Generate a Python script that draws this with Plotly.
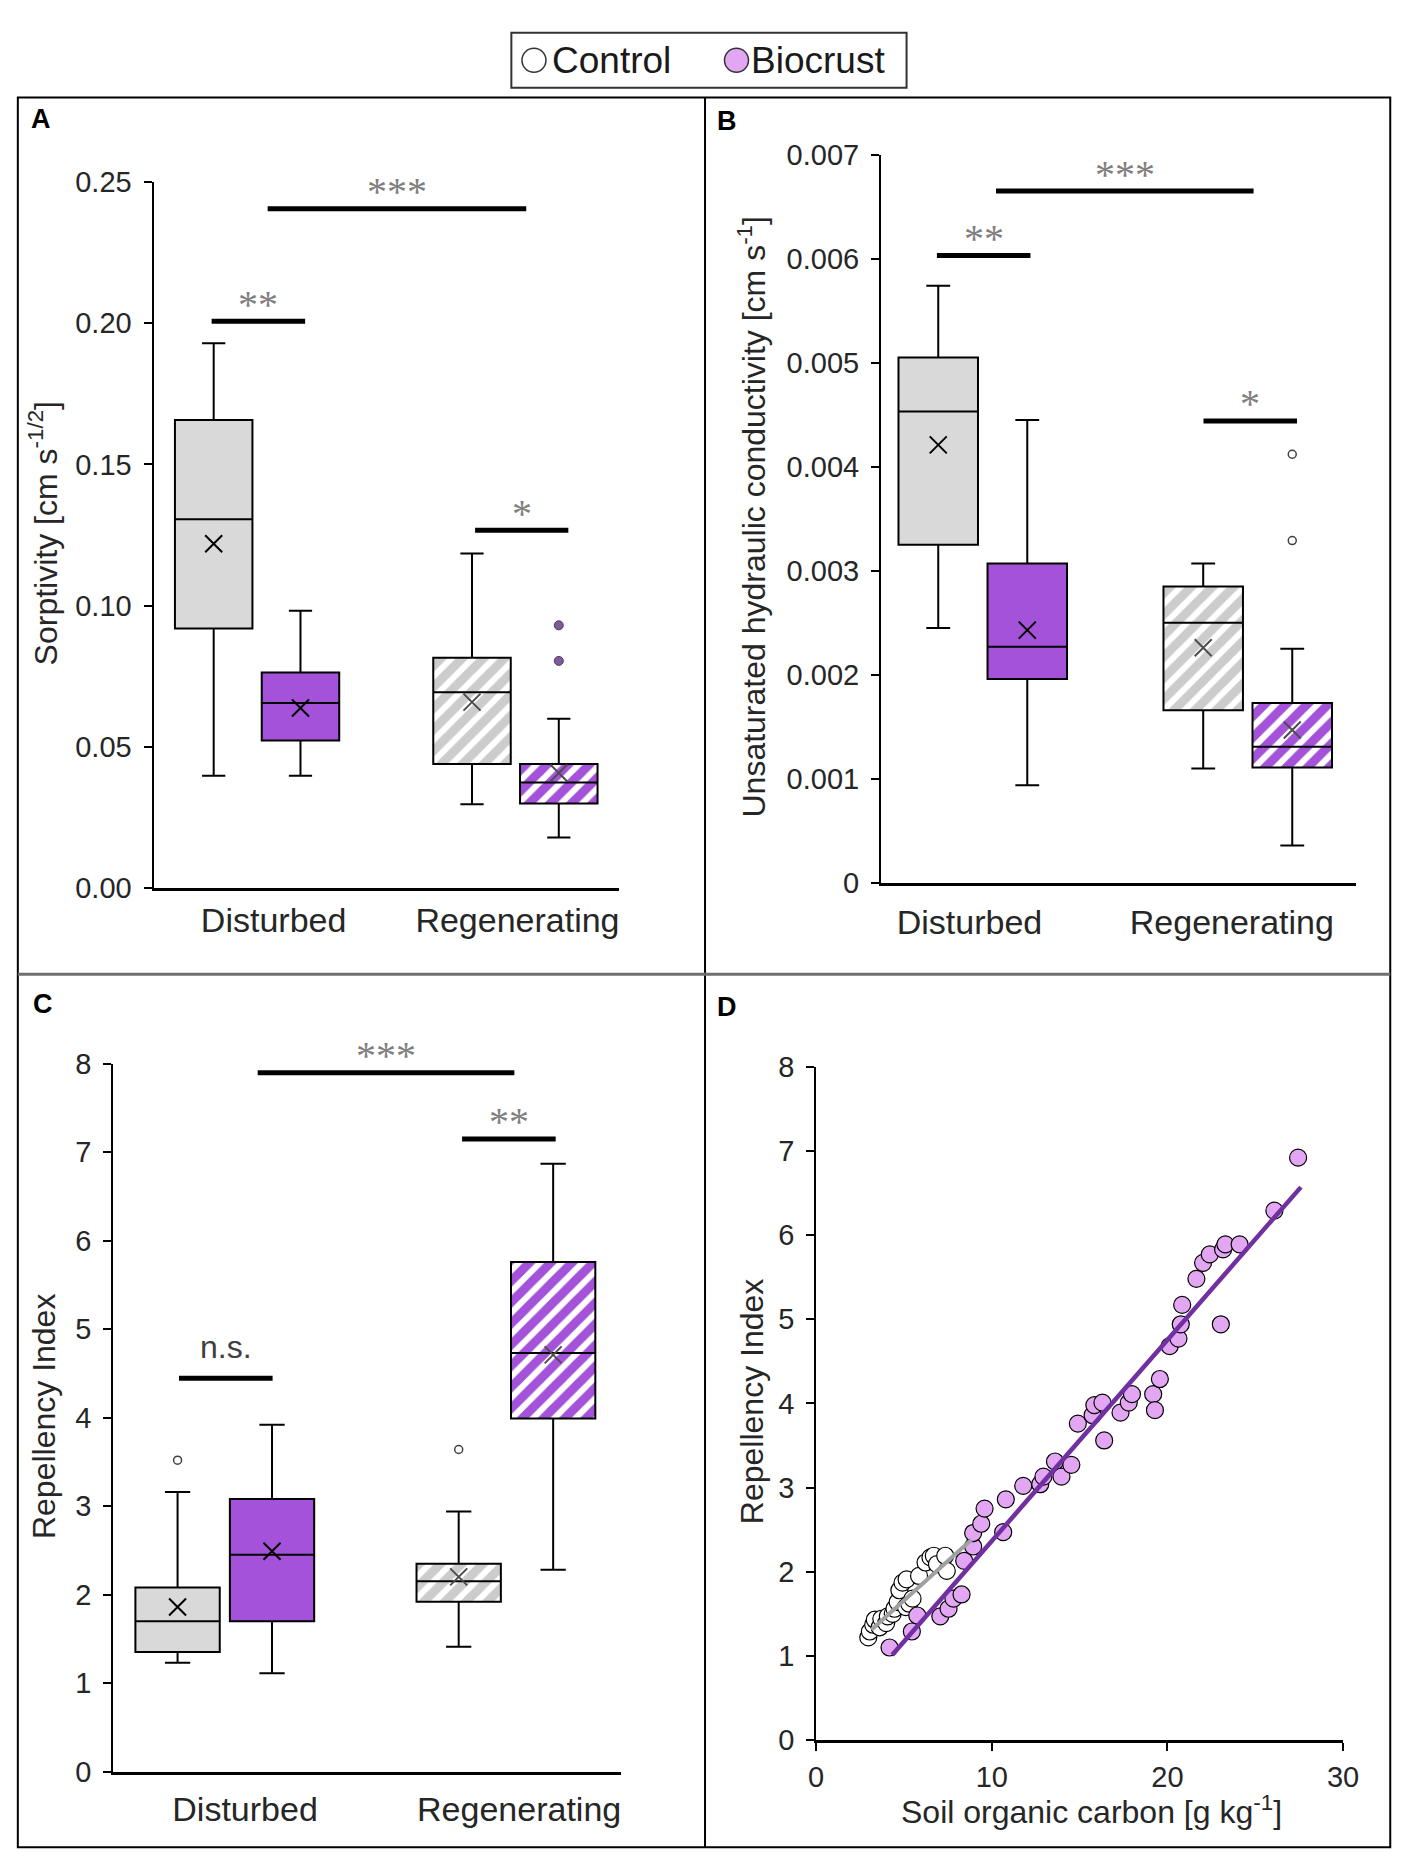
import plotly.graph_objects as go

# ---------------- data ----------------
categories = ["Disturbed", "Regenerating"]
legend_names = ["Control", "Biocrust"]

# A: Sorptivity [cm s-1/2]
sorp_ctrl_q1 = [0.0919, 0.0439]
sorp_ctrl_med = [0.1306, 0.0693]
sorp_ctrl_q3 = [0.1657, 0.0815]
sorp_ctrl_lo = [0.0397, 0.0296]
sorp_ctrl_hi = [0.1929, 0.1184]
sorp_ctrl_mean = [0.1219, 0.0658]
sorp_bio_q1 = [0.0522, 0.0299]
sorp_bio_med = [0.0655, 0.0373]
sorp_bio_q3 = [0.0763, 0.0439]
sorp_bio_lo = [0.0397, 0.0178]
sorp_bio_hi = [0.0982, 0.0599]
sorp_bio_mean = [0.0637, 0.0407]
sorp_bio_regen_outliers = [0.0930, 0.0804]

# B: Unsaturated hydraulic conductivity [cm s-1]
kh_ctrl_q1 = [0.00325, 0.00166]
kh_ctrl_med = [0.00453, 0.00250]
kh_ctrl_q3 = [0.00505, 0.00285]
kh_ctrl_lo = [0.00245, 0.00110]
kh_ctrl_hi = [0.00574, 0.00307]
kh_ctrl_mean = [0.00421, 0.00226]
kh_bio_q1 = [0.00196, 0.00111]
kh_bio_med = [0.00227, 0.00131]
kh_bio_q3 = [0.00307, 0.00173]
kh_bio_lo = [0.00094, 0.00036]
kh_bio_hi = [0.00445, 0.00225]
kh_bio_mean = [0.00243, 0.00147]
kh_bio_regen_outliers = [0.00412, 0.00329]

# C: Repellency index
ri_ctrl_q1 = [1.35, 1.92]
ri_ctrl_med = [1.70, 2.15]
ri_ctrl_q3 = [2.08, 2.35]
ri_ctrl_lo = [1.23, 1.41]
ri_ctrl_hi = [3.16, 2.94]
ri_ctrl_mean = [1.86, 2.20]
ri_bio_q1 = [1.70, 3.99]
ri_bio_med = [2.45, 4.73]
ri_bio_q3 = [3.08, 5.76]
ri_bio_lo = [1.11, 2.28]
ri_bio_hi = [3.92, 6.87]
ri_bio_mean = [2.49, 4.71]
ri_ctrl_outliers = [3.52, 3.64]   # one per category

# D: repellency index vs soil organic carbon
soc_ctrl = [2.97, 3.06, 3.25, 3.34, 3.62, 3.71, 3.99, 4.08, 4.36, 4.46, 4.64, 4.74,
            4.92, 5.11, 5.15, 5.30, 5.49, 5.86, 6.23, 6.51, 6.70, 6.88, 7.35, 7.44]
ri_ctrl_pts = [1.22, 1.29, 1.37, 1.43, 1.34, 1.44, 1.39, 1.47, 1.50, 1.56, 1.64, 1.78,
               1.87, 1.58, 1.91, 1.62, 1.68, 1.95, 2.11, 2.17, 2.19, 2.09, 2.19, 2.01]
soc_bio = [4.18, 5.45, 5.76, 7.07, 7.54, 7.82, 8.28, 8.43, 8.94, 8.94, 9.40, 9.59,
           10.65, 10.80, 11.79, 12.76, 12.94, 13.60, 13.97, 14.53, 14.90, 15.74, 15.84,
           16.30, 16.40, 17.33, 17.80, 17.98, 19.19, 19.29, 19.57, 20.13, 20.63, 20.76,
           20.84, 21.65, 22.03, 22.41, 23.17, 23.30, 24.11, 23.04, 26.09, 27.44]
ri_bio_pts = [1.10, 1.29, 1.48, 1.47, 1.56, 1.68, 1.73, 2.13, 2.30, 2.46, 2.57, 2.75,
              2.47, 2.86, 3.02, 3.04, 3.13, 3.31, 3.13, 3.27, 3.76, 3.86, 3.98,
              4.01, 3.56, 3.89, 4.01, 4.11, 4.11, 3.92, 4.29, 4.68, 4.77, 4.94,
              5.17, 5.48, 5.67, 5.77, 5.83, 5.89, 5.89, 4.94, 6.29, 6.92]
ctrl_fit_x = [3.15, 8.84]
ctrl_fit_y = [1.31, 2.38]
bio_fit_x = [4.33, 27.6]
bio_fit_y = [1.01, 6.57]

# significance brackets: (panel, x from, x to, level, label)
brackets = [
    (1, 0.041, 1.042, 0.2406, "***"),
    (1, -0.176, 0.186, 0.2007, "**"),
    (1, 0.844, 1.205, 0.1267, "*"),
    (2, 0.050, 1.022, 0.00665, "***"),
    (2, -0.173, 0.180, 0.00603, "**"),
    (2, 0.833, 1.186, 0.00444, "*"),
    (3, 0.117, 1.030, 7.90, "***"),
    (3, 0.844, 1.177, 7.15, "**"),
    (3, -0.163, 0.170, 4.445, "n.s."),
]

# ---------------- style ----------------
FONT = "Arial, Liberation Sans, sans-serif"
GREY = "#d9d9d9"
GREY_HATCH = "#cccccc"
PURPLE = "#a352d9"
PINK = "#e3a6f3"
LINE_PURPLE = "#7030a0"
OFF = 0.168     # box offset from category centre
BW = 0.30       # box width

W, H = 1421, 1875


def fx(X):
    return X / W


def fy(Y):
    return 1 - Y / H


fig = go.Figure()


def add_boxes(n, stats, color, hatched, xs):
    q1, med, q3, lo, hi, mean = stats
    xa, ya = ("x", "y") if n == 1 else (f"x{n}", f"y{n}")
    for i in range(len(xs)):
        if hatched[i]:
            fig.add_trace(go.Bar(
                x=[xs[i]], y=[q3[i] - q1[i]], base=[q1[i]], width=[BW],
                marker=dict(color="white", line=dict(width=0),
                            pattern=dict(shape="/", fgcolor=color if color != GREY else GREY_HATCH,
                                         bgcolor="white", size=15, solidity=0.6,
                                         fgopacity=1)),
                xaxis=xa, yaxis=ya, showlegend=False, hoverinfo="skip"))
        fig.add_trace(go.Box(
            x=[xs[i]], q1=[q1[i]], median=[med[i]], q3=[q3[i]],
            lowerfence=[lo[i]], upperfence=[hi[i]], width=BW,
            fillcolor="rgba(0,0,0,0)" if hatched[i] else color,
            line=dict(color="black", width=2), whiskerwidth=0.3,
            boxpoints=False, xaxis=xa, yaxis=ya, showlegend=False, hoverinfo="skip"))
    fig.add_trace(go.Scatter(
        x=xs, y=mean, mode="markers", xaxis=xa, yaxis=ya, showlegend=False,
        marker=dict(symbol="x-thin", size=17,
                    line=dict(width=2, color=["black" if not h else "#4d4d4d" for h in hatched])),
        hoverinfo="skip"))


cat = list(range(len(categories)))
ctrl_x = [c - OFF for c in cat]
bio_x = [c + OFF for c in cat]
hatch = [False, True]

panels = [
    (1, (sorp_ctrl_q1, sorp_ctrl_med, sorp_ctrl_q3, sorp_ctrl_lo, sorp_ctrl_hi, sorp_ctrl_mean),
        (sorp_bio_q1, sorp_bio_med, sorp_bio_q3, sorp_bio_lo, sorp_bio_hi, sorp_bio_mean)),
    (2, (kh_ctrl_q1, kh_ctrl_med, kh_ctrl_q3, kh_ctrl_lo, kh_ctrl_hi, kh_ctrl_mean),
        (kh_bio_q1, kh_bio_med, kh_bio_q3, kh_bio_lo, kh_bio_hi, kh_bio_mean)),
    (3, (ri_ctrl_q1, ri_ctrl_med, ri_ctrl_q3, ri_ctrl_lo, ri_ctrl_hi, ri_ctrl_mean),
        (ri_bio_q1, ri_bio_med, ri_bio_q3, ri_bio_lo, ri_bio_hi, ri_bio_mean)),
]
for n, cs, bs in panels:
    add_boxes(n, cs, GREY, hatch, ctrl_x)
    add_boxes(n, bs, PURPLE, hatch, bio_x)

# outliers
fig.add_trace(go.Scatter(
    x=[bio_x[1]] * len(sorp_bio_regen_outliers), y=sorp_bio_regen_outliers, mode="markers",
    marker=dict(size=9, color="#7d5a9a", line=dict(color="#4d3a5e", width=1)),
    xaxis="x", yaxis="y", showlegend=False, hoverinfo="skip"))
fig.add_trace(go.Scatter(
    x=[bio_x[1]] * len(kh_bio_regen_outliers), y=kh_bio_regen_outliers, mode="markers",
    marker=dict(size=8, color="white", line=dict(color="#404040", width=1.5)),
    xaxis="x2", yaxis="y2", showlegend=False, hoverinfo="skip"))
fig.add_trace(go.Scatter(
    x=ctrl_x, y=ri_ctrl_outliers, mode="markers",
    marker=dict(size=8, color="white", line=dict(color="#404040", width=1.5)),
    xaxis="x3", yaxis="y3", showlegend=False, hoverinfo="skip"))

# panel D scatter
fig.add_trace(go.Scatter(
    x=soc_ctrl, y=ri_ctrl_pts, mode="markers", name=legend_names[0],
    marker=dict(size=17, color="white", line=dict(color="black", width=1.2)),
    xaxis="x4", yaxis="y4", showlegend=False))
fig.add_trace(go.Scatter(
    x=soc_bio, y=ri_bio_pts, mode="markers", name=legend_names[1],
    marker=dict(size=17, color=PINK, line=dict(color="black", width=1.2)),
    xaxis="x4", yaxis="y4", showlegend=False))
fig.add_trace(go.Scatter(
    x=ctrl_fit_x, y=ctrl_fit_y, mode="lines", line=dict(color="#a0a0a0", width=4),
    xaxis="x4", yaxis="y4", showlegend=False, hoverinfo="skip"))
fig.add_trace(go.Scatter(
    x=bio_fit_x, y=bio_fit_y, mode="lines", line=dict(color=LINE_PURPLE, width=4.5),
    xaxis="x4", yaxis="y4", showlegend=False, hoverinfo="skip"))

# ---------------- axes ----------------
tick_font = dict(family=FONT, size=29, color="#262626")
cat_font = dict(family=FONT, size=34, color="#262626")
yax = dict(showgrid=False, zeroline=False, showline=True, linecolor="black", linewidth=2,
           ticks="outside", ticklen=8, tickwidth=2, tickcolor="black",
           tickfont=tick_font, ticklabelstandoff=6)
xcat = dict(showgrid=False, zeroline=False, showline=True, linecolor="black", linewidth=2.5,
            ticks="", tickfont=cat_font, ticktext=categories, tickmode="array")

fig.update_layout(
    xaxis=dict(xcat, domain=[fx(148), fx(622)], range=[-0.401, 1.403],
               tickvals=[0.064, 1.008], ticklabelstandoff=1, anchor="y"),
    yaxis=dict(yax, domain=[fy(887), fy(169)], range=[0, 0.25], dtick=0.05,
               tickformat=".2f", anchor="x"),
    xaxis2=dict(xcat, domain=[fx(888), fx(1371)], range=[-0.384, 1.408],
                tickvals=[-0.05, 0.94], ticklabelstandoff=8, anchor="y2"),
    yaxis2=dict(yax, domain=[fy(882), fy(141)], range=[0, 0.007], dtick=0.001, anchor="x2"),
    xaxis3=dict(xcat, domain=[fx(107), fx(624)], range=[-0.397, 1.411],
                tickvals=[0.072, 1.047], ticklabelstandoff=6, anchor="y3"),
    yaxis3=dict(yax, domain=[fy(1786), fy(1066)], range=[0, 8], dtick=1, anchor="x3"),
    xaxis4=dict(showgrid=False, zeroline=False, showline=True, linecolor="black", linewidth=2.5,
                ticks="outside", ticklen=8, tickwidth=2, tickcolor="black",
                tickfont=tick_font, ticklabelstandoff=1,
                domain=[fx(822), fx(1358)], range=[0, 30], dtick=10, anchor="y4"),
    yaxis4=dict(yax, domain=[fy(1754), fy(1069)], range=[0, 8], dtick=1, anchor="x4"),
)

# ---------------- frame, legend, labels, brackets ----------------
shapes = [
    dict(type="rect", xref="paper", yref="paper", x0=fx(10), x1=fx(1406), y0=fy(1863), y1=fy(83),
         line=dict(color="black", width=2)),
    dict(type="line", xref="paper", yref="paper", x0=fx(709), x1=fx(709), y0=fy(1863), y1=fy(83),
         line=dict(color="black", width=2)),
    dict(type="line", xref="paper", yref="paper", x0=fx(10), x1=fx(1406), y0=fy(975), y1=fy(975),
         line=dict(color="#6e6e6e", width=3)),
    # legend box
    dict(type="rect", xref="paper", yref="paper", x0=fx(512), x1=fx(914), y0=fy(73), y1=fy(17),
         line=dict(color="#333333", width=2), fillcolor="white"),
]
annotations = []
for (name, fill, cx, tx) in [(legend_names[0], "white", 535, 551),
                             (legend_names[1], PINK, 741, 754)]:
    shapes.append(dict(type="circle", xref="paper", yref="paper", xsizemode="pixel",
                       ysizemode="pixel", xanchor=fx(cx), yanchor=fy(45),
                       x0=-12, x1=12, y0=-12, y1=12, fillcolor=fill,
                       line=dict(color="#333333", width=1.5)))
    annotations.append(dict(x=fx(tx), y=fy(45), xref="paper", yref="paper", text=name,
                            showarrow=False, xanchor="left", yanchor="middle",
                            font=dict(family=FONT, size=37, color="#1a1a1a")))

for n, x0, x1, yv, lab in brackets:
    xr = "x" if n == 1 else f"x{n}"
    yr = "y" if n == 1 else f"y{n}"
    shapes.append(dict(type="line", xref=xr, yref=yr, x0=x0, x1=x1, y0=yv, y1=yv,
                       line=dict(color="black", width=5)))
    if lab == "n.s.":
        f = dict(family=FONT, size=32, color="#404040")
        ys = 31
    else:
        f = dict(family="Liberation Serif, Times New Roman, serif", size=40, color="#7f7f7f")
        ys = 17
    annotations.append(dict(x=(x0 + x1) / 2, y=yv, xref=xr, yref=yr, text=lab, showarrow=False,
                            font=f, yshift=ys, xanchor="center", yanchor="middle"))

for lab, X, Y in [("A", 21, 105), ("B", 719, 107), ("C", 23, 1005), ("D", 719, 1008)]:
    annotations.append(dict(x=fx(X), y=fy(Y), xref="paper", yref="paper", text=f"<b>{lab}</b>",
                            showarrow=False, xanchor="left", yanchor="middle",
                            font=dict(family=FONT, size=27, color="black")))

title_font = dict(family=FONT, size=32, color="#262626")
for txt, X, Y, ang in [
    ("Sorptivity [cm s<sup>-1/2</sup>]", 36, 526, -90),
    ("Unsaturated hydraulic conductivity [cm s<sup>-1</sup>]", 757, 509, -90),
    ("Repellency Index", 36, 1425, -90),
    ("Repellency Index", 757, 1410, -90),
    ("Soil organic carbon [g kg<sup>-1</sup>]", 1102, 1825, 0),
]:
    annotations.append(dict(x=fx(X), y=fy(Y), xref="paper", yref="paper", text=txt,
                            showarrow=False, textangle=ang, xanchor="center", yanchor="middle",
                            font=title_font))

fig.update_layout(
    width=W, height=H,
    margin=dict(l=0, r=0, t=0, b=0),
    paper_bgcolor="white", plot_bgcolor="rgba(0,0,0,0)",
    barmode="overlay", boxmode="overlay",
    shapes=shapes, annotations=annotations,
    showlegend=False,
)

fig.write_html("out.html", config={"displayModeBar": False},
               post_script="document.body.style.margin='0';"
                           "document.documentElement.style.overflow='hidden';")
